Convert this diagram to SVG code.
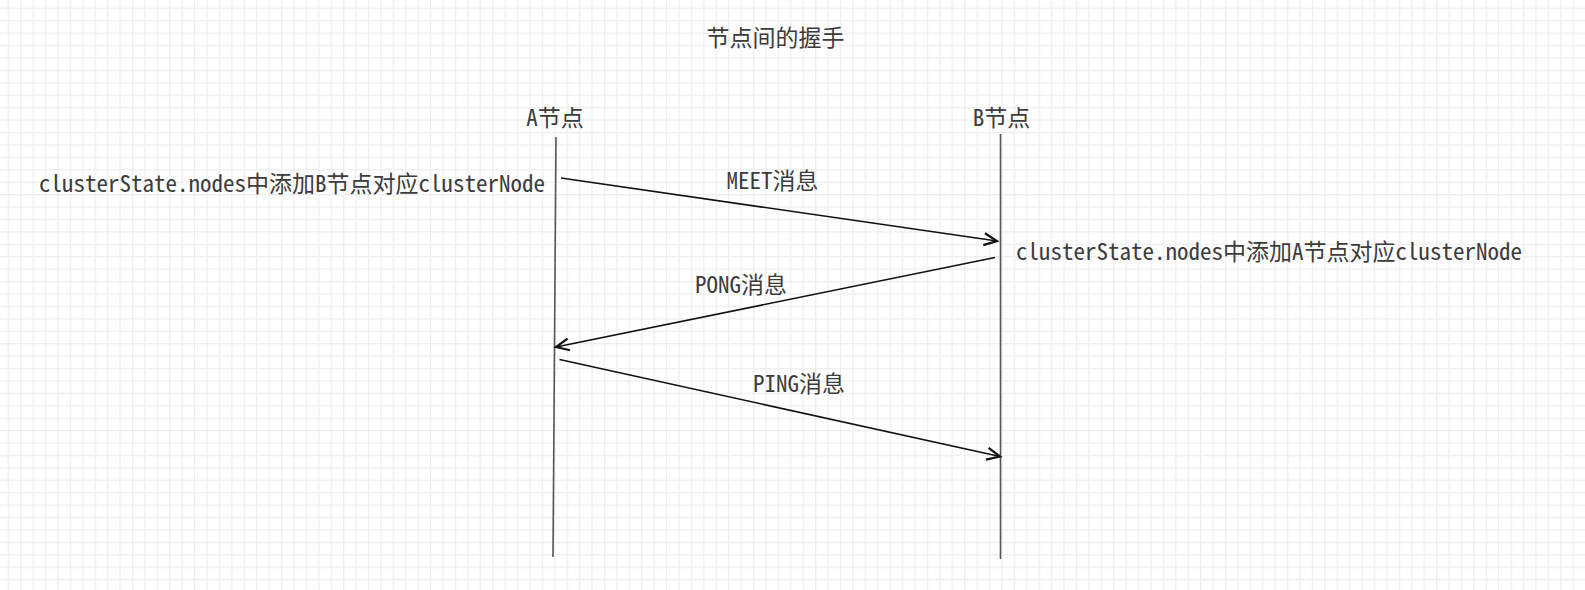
<svg xmlns="http://www.w3.org/2000/svg" width="1585" height="590" viewBox="0 0 1585 590">
  <style>
    .t { font-family: "Noto Sans Mono CJK SC", "Noto Sans CJK SC", "Liberation Mono", monospace; font-size: 23px; fill: #3c3c3c; dominant-baseline: central; }
    .life { stroke: #555555; stroke-width: 1.6; fill: none; }
    .msg { stroke: #111111; stroke-width: 1.6; fill: none; }
  </style>
  <defs>
    <pattern id="grid" x="7.7" y="7.7" width="12.42" height="12.42" patternUnits="userSpaceOnUse">
      <rect x="0" y="0" width="1.3" height="12.42" fill="#eeeeee"/>
      <rect x="0" y="0" width="12.42" height="1.3" fill="#eeeeee"/>
    </pattern>
    <marker id="open" viewBox="-16 -10 20 20" refX="0" refY="0" markerWidth="20" markerHeight="20" markerUnits="userSpaceOnUse" orient="auto">
      <path d="M-13,-6 L0,0 L-13,6" fill="none" stroke="#111111" stroke-width="2.2" stroke-linejoin="miter"/>
    </marker>
  </defs>
  <rect width="1585" height="590" fill="#ffffff"/>
  <rect width="1585" height="590" fill="url(#grid)"/>

  <g id="title">
    <text class="t" x="775.5" y="36" text-anchor="middle">节点间的握手</text>
  </g>

  <g id="nodeA">
    <text class="t" x="555" y="115.5" text-anchor="middle">A节点</text>
    <line class="life" x1="556" y1="137" x2="553" y2="557"/>
  </g>

  <g id="nodeB">
    <text class="t" x="1001.5" y="115.5" text-anchor="middle">B节点</text>
    <line class="life" x1="1000.5" y1="134" x2="1000.5" y2="559"/>
  </g>

  <g id="noteA">
    <text class="t" x="545" y="181.5" text-anchor="end">clusterState.nodes中添加B节点对应clusterNode</text>
  </g>

  <g id="noteB">
    <text class="t" x="1016" y="250" text-anchor="start">clusterState.nodes中添加A节点对应clusterNode</text>
  </g>

  <g id="connectors">
    <line class="msg" x1="561" y1="178" x2="997" y2="241" marker-end="url(#open)"/>
    <line class="msg" x1="995" y1="257.5" x2="556" y2="347" marker-end="url(#open)"/>
    <line class="msg" x1="559.5" y1="359.5" x2="1000" y2="456.5" marker-end="url(#open)"/>
  </g>

  <g id="labels">
    <text class="t" x="772.5" y="179" text-anchor="middle">MEET消息</text>
    <text class="t" x="741" y="283" text-anchor="middle">PONG消息</text>
    <text class="t" x="799" y="382" text-anchor="middle">PING消息</text>
  </g>
</svg>
